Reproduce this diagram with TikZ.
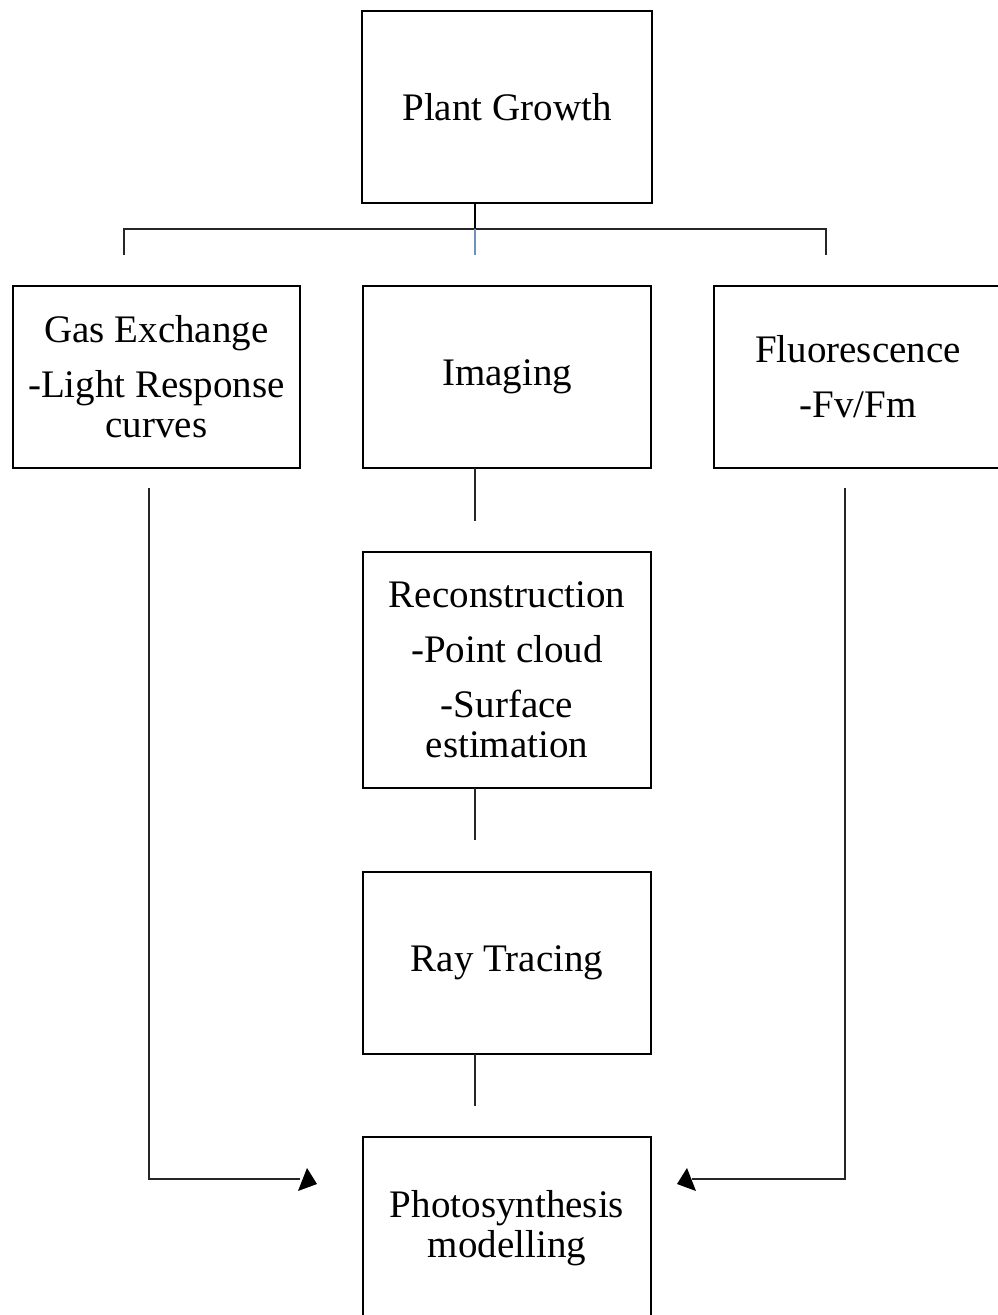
\documentclass[tikz,border=0pt]{standalone}
\usepackage{fontspec}
\setmainfont{Liberation Serif}
\definecolor{stubblue}{RGB}{110,145,190}
\begin{document}
\begin{tikzpicture}[x=1pt,y=-1pt,
  box/.style={draw=black,line width=1.2pt,inner sep=0pt,align=center,
    font=\fontsize{39}{40}\selectfont},
  link/.style={draw=black!85,line width=1.2pt},
  head/.style={fill=black,draw=none}]
\useasboundingbox (0,0) rectangle (998,1315);
\clip (0,0) rectangle (998,1315);
% boxes
\node[box,minimum width=290pt,minimum height=192pt] (top) at (507,107) {Plant Growth};
\node[box,minimum width=287pt,minimum height=182pt] (gas) at (156.5,377) {Gas Exchange\\[15pt]-Light Response\\curves};
\node[box,minimum width=288pt,minimum height=182pt] (img) at (507,377) {Imaging};
\node[box,minimum width=288pt,minimum height=182pt] (flu) at (858,377) {Fluorescence\\[15pt]-Fv/Fm};
\node[box,minimum width=288pt,minimum height=236pt] (rec) at (507,670) {Reconstruction\\[15pt]-Point cloud\\[15pt]-Surface\\estimation};
\node[box,minimum width=288pt,minimum height=182pt] (ray) at (507,963) {Ray Tracing};
\node[box,minimum width=288pt,minimum height=182pt] (pho) at (507,1228) {Photosynthesis\\modelling};
% connector points
\coordinate (tb) at (475,203);
\coordinate (hj) at (475,229);
\coordinate (hl) at (124,229);
\coordinate (hr) at (826,229);
\coordinate (sl) at (124,255);
\coordinate (sr) at (826,255);
\coordinate (sm) at (475,255);
\coordinate (i1) at (475,468);
\coordinate (i2) at (475,521);
\coordinate (r1) at (475,788);
\coordinate (r2) at (475,840);
\coordinate (y1) at (475,1054);
\coordinate (y2) at (475,1106);
\coordinate (gl1) at (149,488);
\coordinate (gl2) at (149,1179);
\coordinate (gl3) at (300,1179);
\coordinate (fl1) at (845,488);
\coordinate (fl2) at (845,1179);
\coordinate (fl3) at (692,1179);
% tree connector
\draw[link,draw=black] (tb) -- (hj);
\draw[link] (sl) -- (hl) -- (hr) -- (sr);
\draw[line width=1.2pt,draw=stubblue] (hj) -- (sm);
% vertical chain
\draw[link] (i1) -- (i2);
\draw[link] (r1) -- (r2);
\draw[link] (y1) -- (y2);
% side arrows
\draw[link] (gl1) -- (gl2) -- (gl3);
\fill[head] (307,1168) -- (298,1191) -- (317,1184) -- cycle;
\draw[link] (fl1) -- (fl2) -- (fl3);
\fill[head] (687,1168) -- (696,1191) -- (677,1184) -- cycle;
\end{tikzpicture}
\end{document}
